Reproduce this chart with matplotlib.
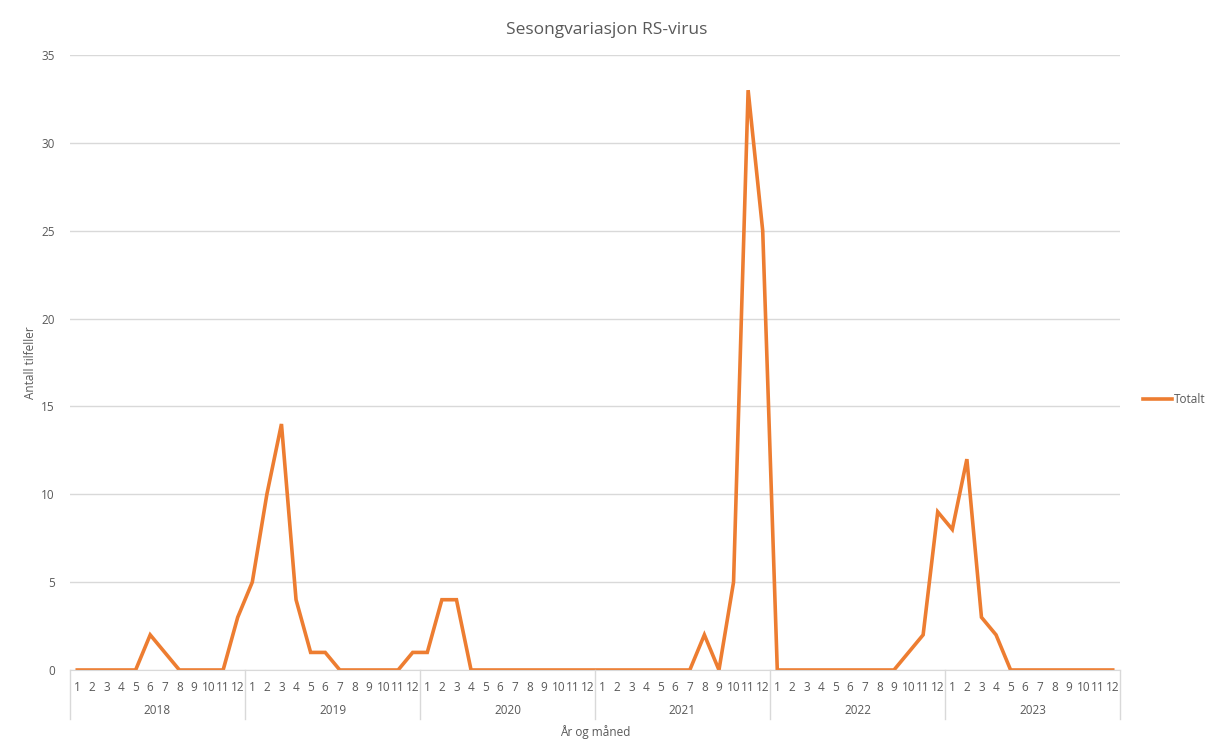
import numpy as np
import matplotlib.pyplot as plt
import matplotlib.transforms as mtransforms

# Data: monthly RSV cases 2018-2023
years = ['2018', '2019', '2020', '2021', '2022', '2023']
months = [str(m) for m in range(1, 13)]
cases_2018 = [0, 0, 0, 0, 0, 2, 1, 0, 0, 0, 0, 3]
cases_2019 = [5, 10, 14, 4, 1, 1, 0, 0, 0, 0, 0, 1]
cases_2020 = [1, 4, 4, 0, 0, 0, 0, 0, 0, 0, 0, 0]
cases_2021 = [0, 0, 0, 0, 0, 0, 0, 2, 0, 5, 33, 25]
cases_2022 = [0, 0, 0, 0, 0, 0, 0, 0, 0, 1, 2, 9]
cases_2023 = [8, 12, 3, 2, 0, 0, 0, 0, 0, 0, 0, 0]

totalt = cases_2018 + cases_2019 + cases_2020 + cases_2021 + cases_2022 + cases_2023
x = np.arange(len(totalt))

plt.rcParams['font.family'] = ['Open Sans', 'DejaVu Sans']
text_col = '#595959'
grid_col = '#D9D9D9'
line_col = '#ED7D31'

fig = plt.figure(figsize=(12.14, 7.47), dpi=100)
ax = fig.add_axes([70 / 1214, 77 / 747, 1050 / 1214, 615 / 747])

ax.plot(x, totalt, color=line_col, linewidth=2.6, label='Totalt', solid_joinstyle='miter')
ax.set_xlim(-0.5, len(totalt) - 0.5)
ax.set_ylim(0, 35)
ax.set_yticks(range(0, 36, 5))
ax.yaxis.grid(True, color=grid_col, linewidth=1)
ax.set_axisbelow(True)
for s in ['top', 'right', 'left']:
    ax.spines[s].set_visible(False)
ax.spines['bottom'].set_color(grid_col)
ax.tick_params(axis='y', length=0, labelsize=8.5, colors=text_col, pad=11)

# month labels (first level)
ax.set_xticks(x)
ax.set_xticklabels(months * len(years))
ax.tick_params(axis='x', length=0, labelsize=8.5, colors=text_col, pad=8)

# year labels and separators (second level)
trans = mtransforms.blended_transform_factory(ax.transData, ax.transAxes)
for i, yr in enumerate(years):
    ax.text(i * 12 + 5.5, -0.066, yr, transform=trans, ha='center', va='center',
            fontsize=8.5, color=text_col)
for i in range(len(years) + 1):
    xs = i * 12 - 0.5
    ax.plot([xs, xs], [0, -0.08], transform=trans, color=grid_col, linewidth=1, clip_on=False)

ax.set_xlabel('År og måned', fontsize=8.5, color=text_col, labelpad=22)
ax.set_ylabel('Antall tilfeller', fontsize=8.5, color=text_col, labelpad=3)
fig.suptitle('Sesongvariasjon RS-virus', fontsize=12.5, color=text_col, y=0.97)

ax.legend(loc='center left', bbox_to_anchor=(1.012, 0.44), frameon=False, fontsize=8.5,
          labelcolor=text_col, handlelength=2.4, handletextpad=0.2)

fig.savefig('out.png', dpi=100)
